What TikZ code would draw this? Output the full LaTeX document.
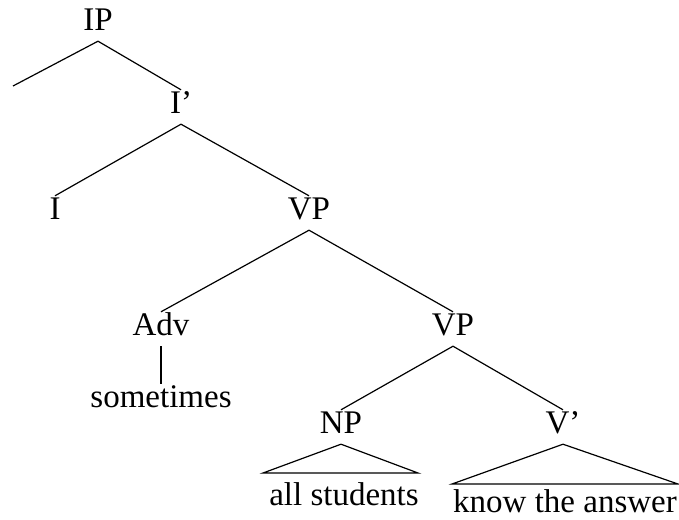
\documentclass[tikz,border=0pt]{standalone}
\usepackage{fontspec}
\setmainfont{Liberation Serif}
\tikzset{cat/.style={inner sep=5pt, text height=0.66em, text depth=0pt}}

\begin{document}
\begin{tikzpicture}[x=0.5pt, y=-0.5pt, font=\fontsize{16.5}{19}\selectfont, line width=0.6pt]
            \useasboundingbox (0,0) rectangle (679,519);

            \node [cat] (IP) at (98,24) {IP};
            \node [cat] (Ibar) at (181,107) {I'};
            \node [cat] (I) at (55,213) {I};
            \node [cat] (VP) at (309,213) {VP};
            \node [cat] (Adv) at (161,329) {Adv};
            \node [cat] (VPlow) at (453,329) {VP};
            \node [cat] (sometimes) at (161,401) {sometimes};
            \node [cat] (NP) at (341,427) {NP};
            \node [cat] (Vbar) at (563,427) {V'};
            \node [cat] (allst) at (344,499) {all students};
            \node [cat] (know) at (565,506) {know the answer};

            \coordinate (ipleft) at (13,86);
            \coordinate (npl) at (263,473);
            \coordinate (npr) at (418,473);
            \coordinate (vl) at (452,484);
            \coordinate (vr) at (678,484);

            \draw (ipleft) -- (IP.south) -- (Ibar.north);
            \draw (I.north) -- (Ibar.south) -- (VP.north);
            \draw (Adv.north) -- (VP.south) -- (VPlow.north);
            \draw (Adv.south) -- (sometimes.north);
            \draw (NP.north) -- (VPlow.south) -- (Vbar.north);
            \draw (NP.south) -- (npl) -- (npr) -- cycle;
            \draw (Vbar.south) -- (vl) -- (vr) -- cycle;
        \end{tikzpicture}
\end{document}
